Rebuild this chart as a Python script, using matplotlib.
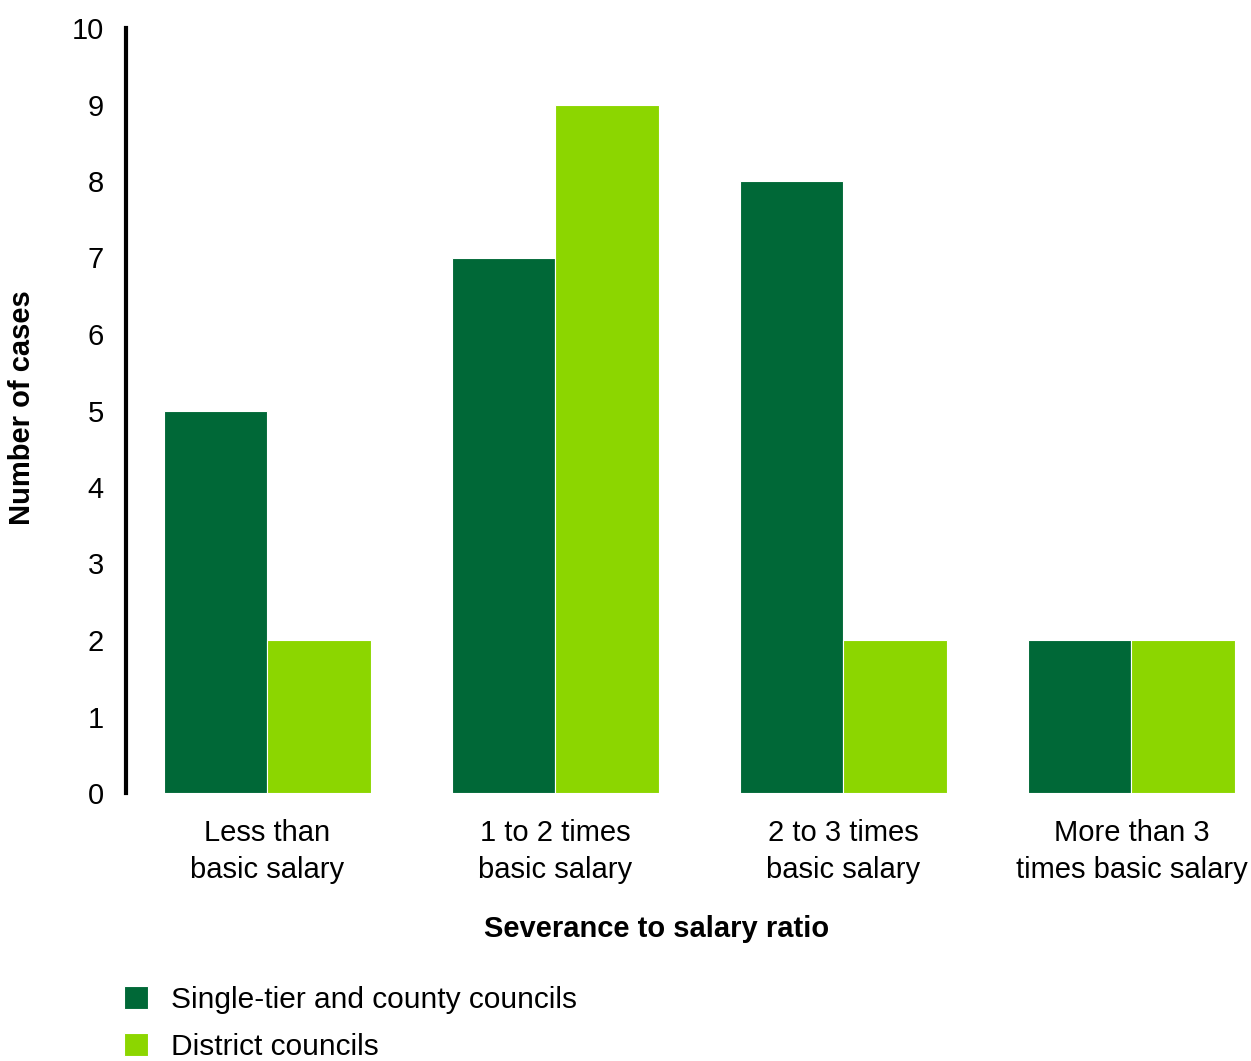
import matplotlib
matplotlib.use("Agg")
import matplotlib.pyplot as plt
import numpy as np

categories = ["Less than\nbasic salary", "1 to 2 times\nbasic salary",
              "2 to 3 times\nbasic salary", "More than 3\ntimes basic salary"]
single_tier = [5, 7, 8, 2]
district = [2, 9, 2, 2]
series_names = ["Single-tier and county councils", "District councils"]
yticks = [0, 1, 2, 3, 4, 5, 6, 7, 8, 9, 10]

dark = "#006837"
light = "#8CD600"

plt.rcParams['font.family'] = ['Liberation Sans', 'DejaVu Sans']

W, H = 1251, 1061
fig = plt.figure(figsize=(W / 100, H / 100), dpi=100)
ax_left = 126 / W
ax_bottom = (H - 793) / H
ax_top = (H - 28) / H
unit = 288.0
xmin, xmax = -0.491, 3.4
ax_w = (xmax - xmin) * unit / W
ax = fig.add_axes([ax_left, ax_bottom, ax_w, ax_top - ax_bottom])

x = np.arange(len(categories))
bw = 0.36
b1 = ax.bar(x - bw / 2, single_tier, bw, color=dark, edgecolor="white", linewidth=0.8, label=series_names[0])
b2 = ax.bar(x + bw / 2, district, bw, color=light, edgecolor="white", linewidth=0.8, label=series_names[1])

fs = 21
ax.set_xlim(xmin, xmax)
ax.set_ylim(0, 10)
ax.set_yticks(yticks)
ax.set_yticklabels([str(t) for t in yticks], fontsize=fs)
ax.set_xticks(x)
ax.set_xticklabels(categories, fontsize=fs, linespacing=1.4)
ax.tick_params(axis='both', length=0)
ax.tick_params(axis='y', pad=16)
ax.tick_params(axis='x', pad=19)
for s in ["top", "right", "bottom"]:
    ax.spines[s].set_visible(False)
ax.spines["left"].set_linewidth(3)
ax.spines["left"].set_color("black")

fig.text(657 / W, 1 - 929 / H, "Severance to salary ratio", fontsize=fs,
         fontweight="bold", ha="center", va="center")
fig.text(22 / W, 1 - 408 / H, "Number of cases", fontsize=fs,
         fontweight="bold", ha="center", va="center", rotation=90)

fig.legend(handles=[b1, b2], labels=series_names, loc="upper left",
           bbox_to_anchor=(124 / W, 1 - 986 / H), frameon=False, fontsize=21.5,
           handlelength=0.8, handleheight=0.8, handletextpad=0.78,
           labelspacing=0.64, borderpad=0, borderaxespad=0)

fig.savefig("out.png", dpi=100)
